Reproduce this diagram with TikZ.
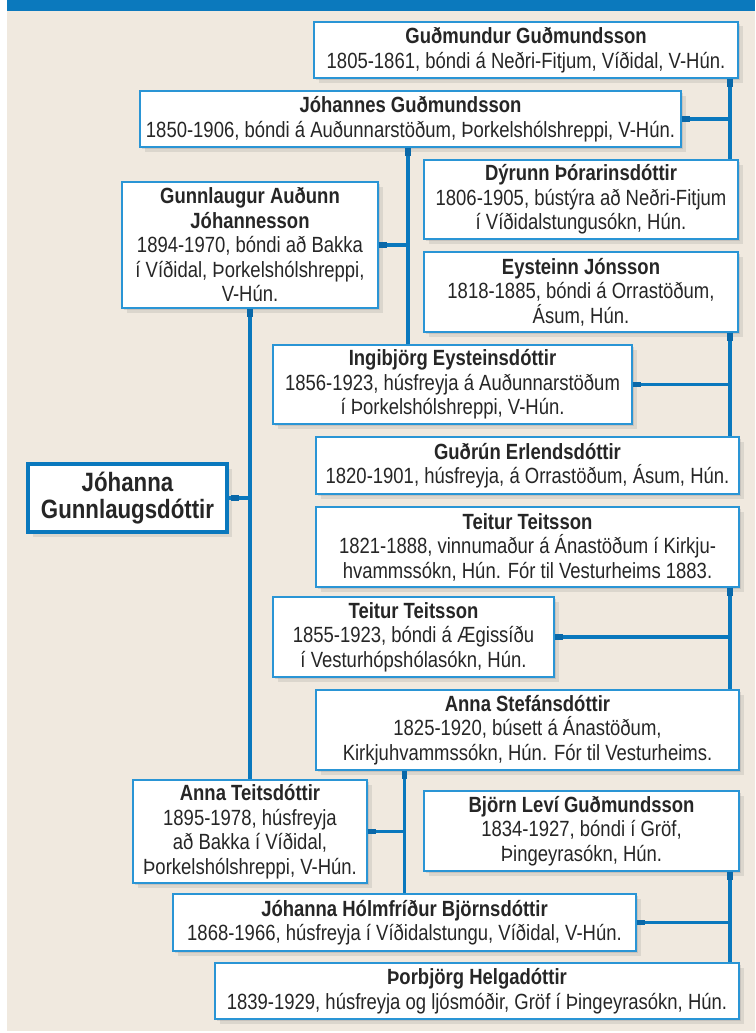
\documentclass[tikz,border=0pt]{standalone}
\usepackage{fontspec}
\setmainfont{Liberation Sans}[FakeStretch=0.84]
\usetikzlibrary{shadows}
\definecolor{bandblue}{HTML}{0B79BD}
\definecolor{paper}{HTML}{F0E9DF}
\definecolor{linkblue}{HTML}{0A78BD}
\definecolor{stubblue}{HTML}{0A68A8}
\definecolor{boxblue}{HTML}{2A95D5}
\definecolor{ink}{HTML}{262626}
\tikzset{
  person/.style={draw=boxblue, line width=1.4pt, fill=white, text=ink,
    align=center, inner sep=0pt,
    font=\fontsize{22}{24.5}\selectfont,
    drop shadow={shadow xshift=2pt, shadow yshift=-2pt, opacity=.22},
    drop shadow={shadow xshift=4.5pt, shadow yshift=-4.5pt, opacity=.18}},
  root/.style={person, draw=linkblue, line width=4.5pt,
    font=\fontsize{26.5}{27.5}\selectfont\bfseries},
  link/.style={draw=linkblue, line width=3.4pt},
  stub/.style={draw=stubblue, line width=5.5pt}
}
\newcommand{\nm}[1]{\textbf{#1}}
\begin{document}
\begin{tikzpicture}[x=1pt, y=-1pt]
\useasboundingbox (0,0) rectangle (755,1033);
\fill[white] (0,0) rectangle (755,1033);
\fill[paper] (7,11) rectangle (755,1031);
\fill[bandblue] (7,0) rectangle (755,11);

% columns of the connector lines
\coordinate (colR) at (730,0);
\coordinate (colB) at (408,0);

% persons
\node[person, minimum width=424, minimum height=56] (gudmundur) at (526,50)
  {\nm{Guðmundur Guðmundsson}\\1805-1861, bóndi á Neðri-Fitjum, Víðidal, V-Hún.};
\node[person, minimum width=541, minimum height=56] (johannes) at (410.5,119)
  {\nm{Jóhannes Guðmundsson}\\1850-1906, bóndi á Auðunnarstöðum, Þorkelshólshreppi, V-Hún.};
\node[person, minimum width=314, minimum height=79] (dyrunn) at (581,199.5)
  {\nm{Dýrunn Þórarinsdóttir}\\1806-1905, bústýra að Neðri-Fitjum\\í Víðidalstungusókn, Hún.};
\node[person, minimum width=256, minimum height=126] (gunnlaugur) at (250,245)
  {\nm{Gunnlaugur Auðunn}\\\nm{Jóhannesson}\\1894-1970, bóndi að Bakka\\í Víðidal, Þorkelshólshreppi,\\V-Hún.};
\node[person, minimum width=314, minimum height=80] (eysteinn) at (581,292)
  {\nm{Eysteinn Jónsson}\\1818-1885, bóndi á Orrastöðum,\\Ásum, Hún.};
\node[person, minimum width=359, minimum height=79] (ingibjorg) at (452.5,384.5)
  {\nm{Ingibjörg Eysteinsdóttir}\\1856-1923, húsfreyja á Auðunnarstöðum\\í Þorkelshólshreppi, V-Hún.};
\node[person, minimum width=423, minimum height=57] (gudrun) at (527.5,465.5)
  {\nm{Guðrún Erlendsdóttir}\\1820-1901, húsfreyja, á Orrastöðum, Ásum, Hún.};
\node[root, minimum width=199, minimum height=68] (johanna) at (127.5,498)
  {Jóhanna\\Gunnlaugsdóttir};
\node[person, minimum width=423, minimum height=80] (teitureldri) at (527.5,547)
  {\nm{Teitur Teitsson}\\1821-1888, vinnumaður á Ánastöðum í Kirkju-\\hvammssókn, Hún. Fór til Vesturheims 1883.};
\node[person, minimum width=281, minimum height=80] (teituryngri) at (413.5,637)
  {\nm{Teitur Teitsson}\\1855-1923, bóndi á Ægissíðu\\í Vesturhópshólasókn, Hún.};
\node[person, minimum width=423, minimum height=80] (annas) at (527.5,730)
  {\nm{Anna Stefánsdóttir}\\1825-1920, búsett á Ánastöðum,\\Kirkjuhvammssókn, Hún. Fór til Vesturheims.};
\node[person, minimum width=234, minimum height=103] (annat) at (250,831.5)
  {\nm{Anna Teitsdóttir}\\1895-1978, húsfreyja\\að Bakka í Víðidal,\\Þorkelshólshreppi, V-Hún.};
\node[person, minimum width=315, minimum height=80] (bjorn) at (581.5,831)
  {\nm{Björn Leví Guðmundsson}\\1834-1927, bóndi í Gröf,\\Þingeyrasókn, Hún.};
\node[person, minimum width=463, minimum height=57] (johannah) at (404.5,922.5)
  {\nm{Jóhanna Hólmfríður Björnsdóttir}\\1868-1966, húsfreyja í Víðidalstungu, Víðidal, V-Hún.};
\node[person, minimum width=524, minimum height=56] (thorbjorg) at (477,991)
  {\nm{Þorbjörg Helgadóttir}\\1839-1929, húsfreyja og ljósmóðir, Gröf í Þingeyrasókn, Hún.};

% connectors: parents' vertical line, child's horizontal line
\draw[link] (gunnlaugur.south) -- (annat.north);
\draw[link] (johanna.east) -- (johanna.east -| gunnlaugur.south);
\draw[stub] (gunnlaugur.south) -- ++(0,8);
\draw[stub] ([xshift=2pt]johanna.east) -- ++(8,0);

\draw[link] (johannes.south -| colB) -- (ingibjorg.north -| colB);
\draw[link] (gunnlaugur.east) -- (gunnlaugur.east -| colB);
\draw[stub] (johannes.south -| colB) -- ++(0,8);
\draw[stub] (gunnlaugur.east) -- ++(8,0);

\draw[link] (gudmundur.south -| colR) -- (dyrunn.north -| colR);
\draw[link] (johannes.east) -- (johannes.east -| colR);
\draw[stub] (gudmundur.south -| colR) -- ++(0,8);
\draw[stub] (johannes.east) -- ++(8,0);

\draw[link] (eysteinn.south -| colR) -- (gudrun.north -| colR);
\draw[link] (ingibjorg.east) -- (ingibjorg.east -| colR);
\draw[stub] (eysteinn.south -| colR) -- ++(0,8);
\draw[stub] (ingibjorg.east) -- ++(8,0);

\draw[link] (teitureldri.south -| colR) -- (annas.north -| colR);
\draw[link] (teituryngri.east) -- (teituryngri.east -| colR);
\draw[stub] (teitureldri.south -| colR) -- ++(0,8);
\draw[stub] (teituryngri.east) -- ++(8,0);

\draw[link] (annas.south -| johannah.north) -- (johannah.north);
\draw[link] (annat.east) -- (annat.east -| johannah.north);
\draw[stub] (annas.south -| johannah.north) -- ++(0,8);
\draw[stub] (annat.east) -- ++(8,0);

\draw[link] (bjorn.south -| colR) -- (thorbjorg.north -| colR);
\draw[link] (johannah.east) -- (johannah.east -| colR);
\draw[stub] (bjorn.south -| colR) -- ++(0,8);
\draw[stub] (johannah.east) -- ++(8,0);
\end{tikzpicture}
\end{document}
